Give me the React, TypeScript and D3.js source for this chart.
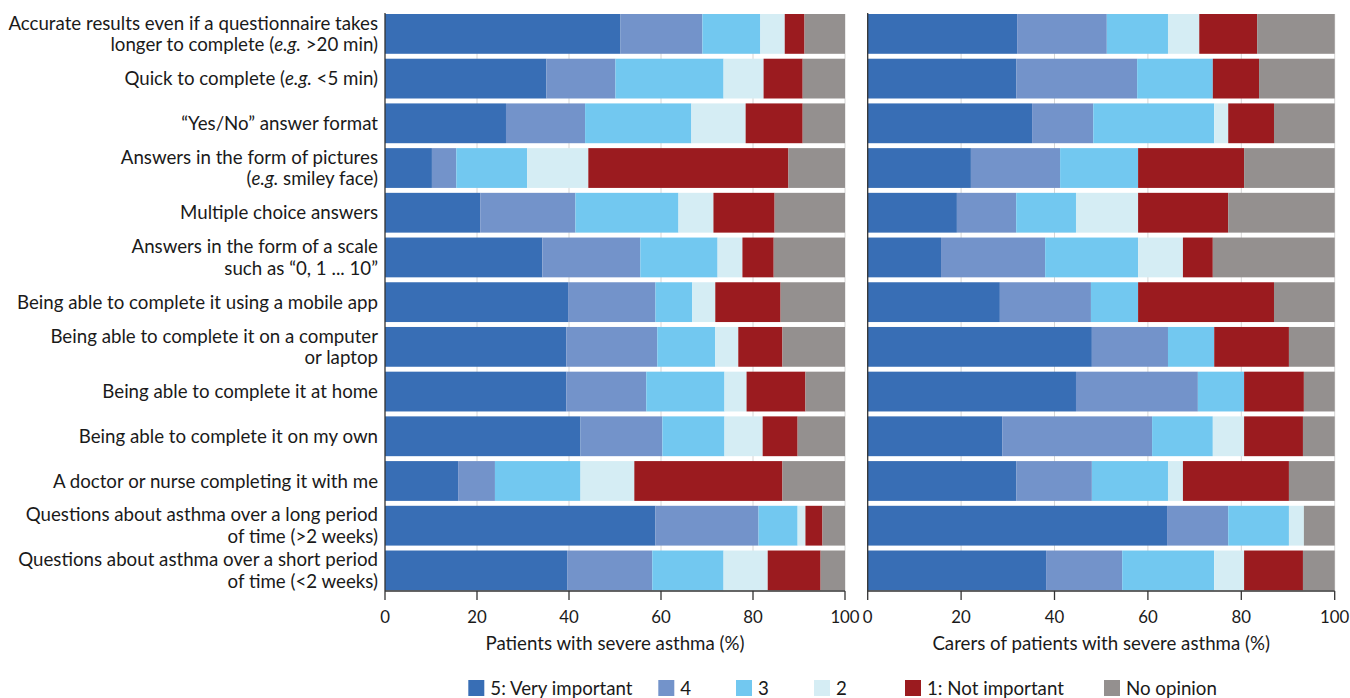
import React from 'react';
import * as d3 from 'd3';

const categories: string[][] = [
  ['Accurate results even if a questionnaire takes', 'longer to complete (*e.g.* >20 min)'],
  ['Quick to complete (*e.g.* <5 min)'],
  ['\u201cYes/No\u201d answer format'],
  ['Answers in the form of pictures', '(*e.g.* smiley face)'],
  ['Multiple choice answers'],
  ['Answers in the form of a scale', 'such as \u201c0, 1 ... 10\u201d'],
  ['Being able to complete it using a mobile app'],
  ['Being able to complete it on a computer', 'or laptop'],
  ['Being able to complete it at home'],
  ['Being able to complete it on my own'],
  ['A doctor or nurse completing it with me'],
  ['Questions about asthma over a long period', 'of time (>2 weeks)'],
  ['Questions about asthma over a short period', 'of time (<2 weeks)'],
];

const keys = ['5: Very important', '4', '3', '2', '1: Not important', 'No opinion'];
const colors = ['#386EB5', '#7393CA', '#72C8F0', '#D5EDF4', '#9B1B1F', '#94908F'];

// Patients with severe asthma (%)
const patients5 = [51.2, 35.1, 26.3, 10.2, 20.7, 34.2, 39.8, 39.4, 39.4, 42.5, 15.9, 58.8, 39.6];
const patients4 = [17.8, 15.0, 17.2, 5.3, 20.7, 21.3, 19.0, 19.8, 17.4, 17.8, 8.0, 22.4, 18.5];
const patients3 = [12.6, 23.5, 23.1, 15.4, 22.4, 16.8, 8.0, 12.6, 17.0, 13.5, 18.6, 8.5, 15.5];
const patients2 = [5.3, 8.7, 11.8, 13.3, 7.6, 5.4, 5.0, 5.0, 4.8, 8.3, 11.7, 1.7, 9.6];
const patients1 = [4.3, 8.5, 12.4, 43.5, 13.3, 6.8, 14.2, 9.6, 12.8, 7.6, 32.2, 3.7, 11.5];
const patientsNo = [8.8, 9.2, 9.2, 12.3, 15.3, 15.5, 14.0, 13.6, 8.6, 10.3, 13.6, 4.9, 5.3];

// Carers of patients with severe asthma (%)
const carers5 = [32.0, 31.8, 35.2, 22.1, 19.1, 15.7, 28.3, 48.0, 44.6, 28.8, 31.8, 64.1, 38.2];
const carers4 = [19.2, 25.9, 13.1, 19.1, 12.7, 22.3, 19.5, 16.3, 26.1, 32.1, 16.2, 13.1, 16.3];
const carers3 = [13.1, 16.2, 25.9, 16.7, 12.8, 19.9, 10.1, 9.9, 9.9, 13.0, 16.3, 13.0, 19.7];
const carers2 = [6.7, 0, 3.0, 0, 13.3, 9.6, 0, 0, 0, 6.7, 3.2, 3.2, 6.4];
const carers1 = [12.4, 9.9, 9.8, 22.7, 19.3, 6.4, 29.1, 16.0, 12.8, 12.6, 22.7, 0, 12.6];
const carersNo = [16.6, 16.2, 13.0, 19.4, 22.8, 26.1, 13.0, 9.8, 6.6, 6.8, 9.8, 6.6, 6.8];

const xTicks = [0, 20, 40, 60, 80, 100];
const panelTitles = ['Patients with severe asthma (%)', 'Carers of patients with severe asthma (%)'];

const FONT = 'Lato, "Source Sans Pro", sans-serif';
const TEXT = '#1a1a1a';
const FS = 18.7;
const TICK_FS = 16.8;

function buildRows(series: number[][]) {
  return categories.map((_, i) => {
    const row: Record<string, number> = { idx: i };
    keys.forEach((k, j) => (row[k] = series[j][i]));
    return row;
  });
}

function renderLine(line: string, key: string) {
  const parts = line.split('*');
  return parts.map((p, i) => (
    <tspan key={key + '-' + i} fontStyle={i % 2 === 1 ? 'italic' : 'normal'}>
      {p}
    </tspan>
  ));
}

export default function App() {
  const W = 1350;
  const H = 698;
  const y = d3
    .scaleBand<number>()
    .domain(d3.range(categories.length))
    .range([14, 590.3])
    .paddingInner(0.11)
    .paddingOuter(0);
  const axisY = 591;

  const panels = [
    { x: d3.scaleLinear().domain([0, 100]).range([385, 845]), rows: buildRows([patients5, patients4, patients3, patients2, patients1, patientsNo]), title: panelTitles[0] },
    { x: d3.scaleLinear().domain([0, 100]).range([867.7, 1334.7]), rows: buildRows([carers5, carers4, carers3, carers2, carers1, carersNo]), title: panelTitles[1] },
  ];

  const stack = d3.stack<Record<string, number>>().keys(keys);

  const legendX = [468.3, 658.3, 736, 814, 905, 1104];

  return (
    <svg
      width={W}
      height={H}
      style={{ position: 'absolute', left: 0, top: 0, background: '#fff' }}
      fontFamily={FONT}
    >
      {/* category labels */}
      {categories.map((lines, i) => {
        const cy = (y(i) as number) + y.bandwidth() / 2;
        const n = lines.length;
        return (
          <text key={'lab' + i} textAnchor="end" fontSize={FS} fill={TEXT}>
            {lines.map((ln, j) => (
              <tspan key={j} x={378} y={cy + (j - (n - 1) / 2) * 21.5} dy="0.35em">
                {renderLine(ln, i + '-' + j)}
              </tspan>
            ))}
          </text>
        );
      })}

      {panels.map((p, pi) => {
        const series = stack(p.rows);
        const [x0, x1] = p.x.range();
        return (
          <g key={'panel' + pi}>
            {/* gridlines */}
            {xTicks.slice(1).map((t) => (
              <line key={'g' + t} x1={p.x(t)} x2={p.x(t)} y1={14} y2={axisY} stroke="#d6d6d6" strokeWidth={1} />
            ))}
            {/* bars */}
            {series.map((s, si) => (
              <g key={s.key} fill={colors[si]}>
                {s.map((d, di) => (
                  <rect
                    key={di}
                    x={p.x(d[0])}
                    y={y(di) as number}
                    width={Math.max(0, p.x(d[1]) - p.x(d[0]))}
                    height={y.bandwidth()}
                  />
                ))}
              </g>
            ))}
            {/* axes */}
            <line x1={x0} x2={x0} y1={13} y2={axisY} stroke="#333" strokeWidth={1.3} />
            <line x1={x0} x2={x1} y1={axisY} y2={axisY} stroke="#333" strokeWidth={1.3} />
            {xTicks.map((t) => (
              <g key={'t' + t}>
                <line x1={p.x(t)} x2={p.x(t)} y1={axisY} y2={axisY + 9} stroke="#333" strokeWidth={1.3} />
                <text x={p.x(t)} y={617} dy="0.35em" textAnchor="middle" fontSize={TICK_FS} fill={TEXT}>
                  {t}
                </text>
              </g>
            ))}
            <text x={(x0 + x1) / 2} y={643} dy="0.35em" textAnchor="middle" fontSize={FS} fill={TEXT}>
              {p.title}
            </text>
          </g>
        );
      })}

      {/* legend */}
      {keys.map((k, i) => (
        <g key={'leg' + i}>
          <rect x={legendX[i]} y={680} width={16} height={16} fill={colors[i]} />
          <text x={legendX[i] + 22} y={688} dy="0.35em" fontSize={FS} fill={TEXT}>
            {k}
          </text>
        </g>
      ))}
    </svg>
  );
}
